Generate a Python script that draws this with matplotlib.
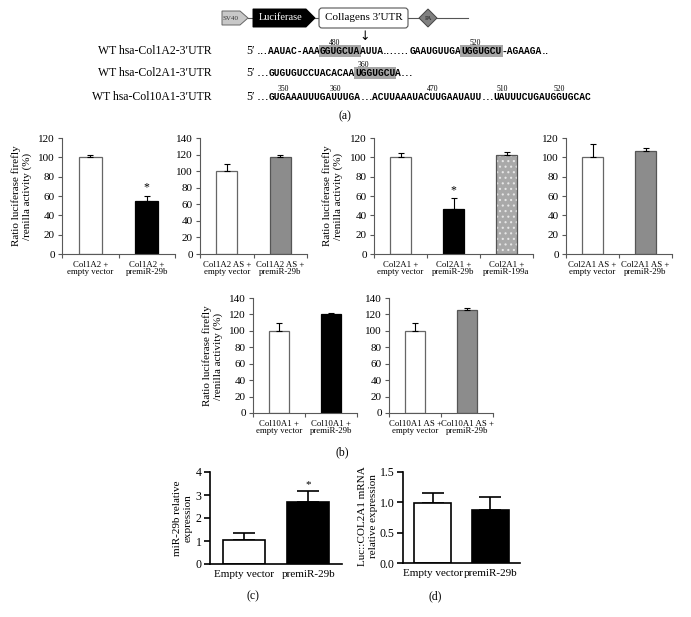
import matplotlib
matplotlib.use("Agg")
import matplotlib.pyplot as plt
from matplotlib.patches import Polygon, FancyBboxPatch
import numpy as np

plt.rcParams['font.family'] = ['Liberation Serif', 'DejaVu Serif']
plt.rcParams['hatch.linewidth'] = 0.8

# ---------------- data ----------------
b1_labels = ["Col1A2 +\nempty vector", "Col1A2 +\npremiR-29b"]
b1_vals = [100, 55]
b1_err = [2.5, 5.5]
b1_star = [False, True]

b2_labels = ["Col1A2 AS +\nempty vector", "Col1A2 AS +\npremiR-29b"]
b2_vals = [100, 117]
b2_err = [9, 3]

b3_labels = ["Col2A1 +\nempty vector", "Col2A1 +\npremiR-29b", "Col2A1 +\npremiR-199a"]
b3_vals = [100, 47, 102]
b3_err = [4, 11, 4]
b3_star = [False, True, False]

b4_labels = ["Col2A1 AS +\nempty vector", "Col2A1 AS +\npremiR-29b"]
b4_vals = [100, 107]
b4_err = [14, 2.5]

b5_labels = ["Col10A1 +\nempty vector", "Col10A1 +\npremiR-29b"]
b5_vals = [100, 121]
b5_err = [10, 1]

b6_labels = ["Col10A1 AS +\nempty vector", "Col10A1 AS +\npremiR-29b"]
b6_vals = [100, 126]
b6_err = [9.5, 1.5]

c_labels = ["Empty vector", "premiR-29b"]
c_vals = [1.05, 2.68]
c_err = [0.3, 0.5]
c_star = [False, True]

d_labels = ["Empty vector", "premiR-29b"]
d_vals = [0.99, 0.88]
d_err = [0.16, 0.2]

seq_names = ["WT hsa-Col1A2-3\u2032UTR", "WT hsa-Col2A1-3\u2032UTR", "WT hsa-Col10A1-3\u2032UTR"]
# kind: n = plain bases, h = highlighted seed match, d = dots / ellipsis
seq_pieces = [
    [("...", 'd'), ("AAUAC-AAA", 'n'), ("GGUGCUA", 'h'), ("AUUA", 'n'), (".......", 'd'),
     ("GAAUGUUGA", 'n'), ("UGGUGCU", 'h'), ("-AGAAGA", 'n'), ("..", 'd')],
    [("\u2026", 'd'), ("GUGUGUCCUACACAA", 'n'), ("UGGUGCU", 'h'), ("A", 'n'), ("\u2026", 'd')],
    [("\u2026", 'd'), ("GUGAAAUUUGAUUUGA", 'n'), ("\u2026", 'd'), ("ACUUAAAUACUUGAAUAUU", 'n'),
     ("\u2026", 'd'), ("UAUUUCUGAUGGUGCAC", 'n')],
]
# (label, piece index, character offset in piece)
seq_numbers = [
    [("480", 2, 2), ("520", 6, 2)],
    [("360", 2, 1)],
    [("350", 1, 2), ("360", 1, 11), ("470", 3, 10), ("510", 5, 1), ("520", 5, 11)],
]

# ---------------- figure ----------------
W, H = 691, 617
fig = plt.figure(figsize=(W / 100, H / 100), dpi=100)

ax0 = fig.add_axes([0, 0, 1, 1])
ax0.set_xlim(0, W)
ax0.set_ylim(H, 0)
ax0.axis('off')
ax0.patch.set_visible(False)


def px_axes(l, t, r, b):
    return fig.add_axes([l / W, 1 - b / H, (r - l) / W, (b - t) / H])


SP = '#595959'


def excel_bar(ax, labels, vals, errs, faces, edges, ymax, ystep, stars=None, dotted=None):
    n = len(vals)
    x = np.arange(n)
    for i in range(n):
        if dotted is not None and dotted[i]:
            ax.bar(x[i], vals[i], width=0.4, color=faces[i], hatch='...', edgecolor='#e6e6e6',
                   linewidth=0, zorder=2)
            ax.bar(x[i], vals[i], width=0.4, fill=False, edgecolor=edges[i], linewidth=0.9, zorder=3)
        else:
            ax.bar(x[i], vals[i], width=0.4, color=faces[i], edgecolor=edges[i], linewidth=0.9, zorder=2)
    ax.errorbar(x, vals, yerr=[np.zeros(n), errs], fmt='none', ecolor='black',
                elinewidth=0.8, capsize=2.5, capthick=0.8, zorder=4)
    if stars is not None:
        for i in range(n):
            if stars[i]:
                ax.text(x[i], vals[i] + errs[i] + ymax * 0.015, "*", ha='center', va='bottom', fontsize=8.5)
    ax.set_xlim(-0.5, n - 0.5)
    ax.set_ylim(0, ymax)
    ax.set_xticks(np.arange(n + 1) - 0.5)
    ax.set_xticklabels([])
    ax.set_xticks(x, minor=True)
    ax.set_xticklabels(labels, minor=True, fontsize=6.3, linespacing=0.9)
    ax.tick_params(axis='x', which='minor', length=0, pad=5)
    ax.tick_params(axis='x', which='major', length=3, direction='out', color=SP, width=0.8)
    ax.set_yticks(np.arange(0, ymax + 1, ystep))
    ax.tick_params(axis='y', length=3, direction='out', labelsize=8, color=SP, width=0.8, pad=2)
    for s in ['top', 'right']:
        ax.spines[s].set_visible(False)
    for s in ['left', 'bottom']:
        ax.spines[s].set_color(SP)
        ax.spines[s].set_linewidth(0.8)


WHITE, BLACK, GREY, DOT = 'white', 'black', '#8c8c8c', '#a9a9a9'
WE, BE, GE = '#666666', 'black', '#555555'

ax1 = px_axes(62, 138, 175, 254)
excel_bar(ax1, b1_labels, b1_vals, b1_err, [WHITE, BLACK], [WE, BE], 120, 20, stars=b1_star)
ax2 = px_axes(200, 138, 307, 254)
excel_bar(ax2, b2_labels, b2_vals, b2_err, [WHITE, GREY], [WE, GE], 140, 20)
ax3 = px_axes(374, 138, 533, 254)
excel_bar(ax3, b3_labels, b3_vals, b3_err, [WHITE, BLACK, DOT], [WE, BE, GE], 120, 20,
          stars=b3_star, dotted=[False, False, True])
ax4 = px_axes(566, 138, 672, 254)
excel_bar(ax4, b4_labels, b4_vals, b4_err, [WHITE, GREY], [WE, GE], 120, 20)
ax5 = px_axes(253, 298, 357, 413)
excel_bar(ax5, b5_labels, b5_vals, b5_err, [WHITE, BLACK], [WE, BE], 140, 20)
ax6 = px_axes(389, 298, 493, 413)
excel_bar(ax6, b6_labels, b6_vals, b6_err, [WHITE, GREY], [WE, GE], 140, 20)


def prism_bar(ax, labels, vals, errs, ymax, ticks, ticklabels, stars=None):
    n = len(vals)
    x = np.arange(n)
    ax.bar(x, vals, width=0.65, color=['white', 'black'], edgecolor='black', linewidth=1.2, zorder=2)
    ax.errorbar(x, vals, yerr=[np.zeros(n), errs], fmt='none', ecolor='black',
                elinewidth=1.2, capsize=8, capthick=1.2, zorder=1)
    if stars is not None:
        for i in range(n):
            if stars[i]:
                ax.text(x[i], vals[i] + errs[i] + ymax * 0.02, "*", ha='center', va='bottom', fontsize=8)
    ax.set_xlim(-0.52, n - 0.48)
    ax.set_ylim(0, ymax)
    ax.set_xticks(x)
    ax.set_xticklabels(labels, fontsize=8)
    ax.tick_params(axis='x', length=0, pad=4)
    ax.set_yticks(ticks)
    ax.set_yticklabels(ticklabels)
    ax.tick_params(axis='y', length=4, width=1.2, direction='out', labelsize=8.5, pad=2)
    for s in ['top', 'right']:
        ax.spines[s].set_visible(False)
    for s in ['left', 'bottom']:
        ax.spines[s].set_linewidth(1.2)


axc = px_axes(210, 472, 342, 564)
prism_bar(axc, c_labels, c_vals, c_err, 4, [0, 1, 2, 3, 4], ["0", "1", "2", "3", "4"], stars=c_star)
axd = px_axes(403, 472, 520, 563)
prism_bar(axd, d_labels, d_vals, d_err, 1.5, [0, 0.5, 1.0, 1.5], ["0.0", "0.5", "1.0", "1.5"])

# y labels
ylab = "Ratio luciferase firefly\n/renilla activity (%)"
for xx, yy in [(22, 196), (333, 196), (213, 356)]:
    ax0.text(xx, yy, ylab, rotation=90, ha='center', va='center', fontsize=8, linespacing=1.2)
ax0.text(183, 518, "miR-29b relative\nexpression", rotation=90, ha='center', va='center', fontsize=8,
         linespacing=1.2)
ax0.text(368, 516, "Luc::COL2A1 mRNA\nrelative expression", rotation=90, ha='center', va='center',
         fontsize=8, linespacing=1.2)

# panel letters
for lab, xx, yy in [("(a)", 345, 116), ("(b)", 342, 452), ("(c)", 253, 596), ("(d)", 435, 596)]:
    ax0.text(xx, yy, lab, ha='center', va='center', fontsize=8.5)

# ---------------- construct diagram ----------------
cy = 18
ax0.plot([248, 468], [cy, cy], color='#555555', lw=0.8, zorder=1)
ax0.add_patch(Polygon([[222, 11], [240, 11], [248, cy], [240, 25], [222, 25]], closed=True,
                      fc='#c8c8c8', ec='#666666', lw=0.7, zorder=2))
ax0.text(231, cy, "SV40", ha='center', va='center', fontsize=5, color='#333333', zorder=3)
ax0.add_patch(Polygon([[253, 9], [306, 9], [315, cy], [306, 27], [253, 27]], closed=True,
                      fc='black', ec='black', lw=0.7, zorder=2))
ax0.text(281, cy, "Luciferase", ha='center', va='center', fontsize=7.5, color='white', zorder=3)
ax0.add_patch(FancyBboxPatch((319, 8), 89, 20, boxstyle="round,pad=0,rounding_size=3",
                             fc='white', ec='#555555', lw=0.8, zorder=2))
ax0.text(363.5, cy, "Collagens 3\u2032UTR", ha='center', va='center', fontsize=8, zorder=3)
ax0.add_patch(Polygon([[419, cy], [428, 9], [437, cy], [428, 27]], closed=True,
                      fc='#808080', ec='#444444', lw=0.7, zorder=2))
ax0.text(428, cy, "PA", ha='center', va='center', fontsize=4.5, color='#222222', zorder=3)
ax0.text(365, 36, "\u2193", ha='center', va='center', fontsize=9, family=['DejaVu Sans'])

# ---------------- sequences ----------------
renderer = fig.canvas.get_renderer()
line_y = [54, 76, 100]
x_seq0 = 257
for k in range(3):
    y = line_y[k]
    ax0.text(212, y, seq_names[k], ha='right', va='baseline', fontsize=8.5)
    ax0.text(246, y, "5\u2032", ha='left', va='baseline', fontsize=8.5)
    x = x_seq0
    starts = []
    widths = []
    for txt, kind in seq_pieces[k]:
        kw = {}
        if kind == 'h':
            kw['bbox'] = dict(boxstyle='square,pad=0.12', fc='#a6a6a6', ec='none')
        if kind == 'd':
            t = ax0.text(x, y, txt, ha='left', va='baseline', fontsize=8.5,
                         family=['DejaVu Sans'])
        else:
            t = ax0.text(x, y, txt, ha='left', va='baseline', fontsize=6.9,
                         family=['Liberation Mono', 'DejaVu Sans Mono'], weight='bold', **kw)
        bb = t.get_window_extent(renderer)
        starts.append(x)
        widths.append(bb.width / max(len(txt), 1))
        x += bb.width
    for num, pi, off in seq_numbers[k]:
        ax0.text(starts[pi] + (off + 0.5) * widths[pi], y - 9, num, ha='center', va='baseline',
                 fontsize=5.5)

fig.savefig("out.png", dpi=100)
